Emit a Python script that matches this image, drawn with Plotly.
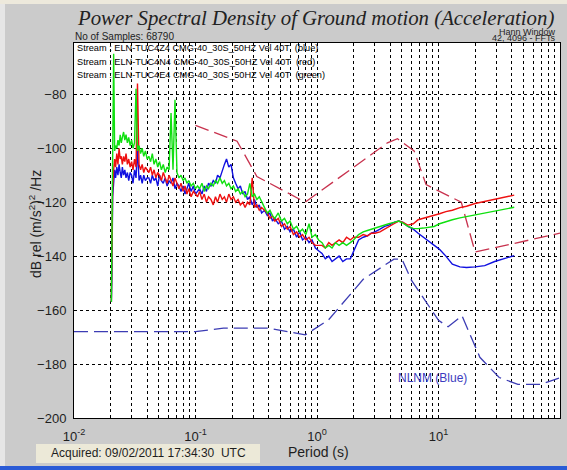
import plotly.graph_objects as go

# ---------------- data ----------------
period_s = [
    0.0203, 0.0205, 0.0208, 0.0212, 0.0216, 0.022, 0.0225, 0.023, 0.0235, 0.024, 0.0245, 0.025,
    0.0256, 0.0262, 0.0268, 0.0275, 0.0282, 0.029, 0.0298, 0.0306, 0.0315, 0.0324, 0.0333, 0.0343,
    0.0353, 0.0364, 0.0375, 0.0387, 0.04,
    0.0413, 0.0427, 0.0441, 0.0456, 0.0472, 0.0489, 0.0506, 0.0524, 0.0543, 0.0563, 0.0584, 0.0606,
    0.0629, 0.0653, 0.0678, 0.0704, 0.0731, 0.076, 0.079, 0.082, 0.085, 0.088, 0.092, 0.096, 0.1,
    0.104, 0.108, 0.113, 0.118, 0.123, 0.128, 0.134, 0.14, 0.146, 0.152, 0.159, 0.166, 0.173, 0.18,
    0.188, 0.196, 0.205, 0.214, 0.224, 0.234, 0.245, 0.256, 0.268, 0.28, 0.293, 0.306, 0.32, 0.335, 0.35,
    0.37, 0.39, 0.41, 0.43, 0.45, 0.48, 0.51, 0.54, 0.57, 0.6, 0.64, 0.68, 0.72, 0.76, 0.81, 0.86, 0.91, 0.97, 1.03,
    1.1, 1.17, 1.25, 1.33, 1.42, 1.52, 1.63, 1.75, 1.88, 2.0,
    2.2, 2.4, 2.6, 2.8, 3.0, 3.3, 3.6, 3.9, 4.3, 4.7, 5.1, 5.6, 6.2, 6.8, 7.5, 8.3, 9.2, 10.2, 11.5,
    13, 15, 17, 20, 24, 29, 35, 42,
]

psd_blue_db = [
    -157, -148, -118, -110, -108, -111, -107, -110, -106, -109, -111, -107,
    -110, -108, -111, -109, -112, -109, -110, -113, -108, -111, -100, -112, -110, -113, -110, -112, -111,
    -111, -113, -110, -112, -111, -114, -110, -112, -113, -111, -114, -112, -113, -111, -115, -113,
    -114, -116, -114, -117, -115, -113, -116, -114, -117,
    -116, -115, -117, -114, -116, -113, -114, -112, -113, -110, -111, -108, -106, -104, -107, -106,
    -111, -113, -115, -114, -117, -116, -119, -118, -121, -119, -122, -121, -124,
    -123, -125, -124, -127, -126, -128, -127, -130, -129, -131, -130, -133, -131, -134, -133, -135, -134, -137, -138,
    -139, -141, -140, -142, -141, -140, -142, -141, -141, -138,
    -134, -133, -132.5, -131.5, -131, -130, -129, -128.5, -127.5, -127, -127.5, -129, -130, -131.5,
    -133, -134.5, -136, -137.5, -140, -143, -144, -144.2, -144, -143.5, -142, -141, -139.8,
]

psd_red_db = [
    -157, -140, -115, -108, -104, -107, -102, -106, -100, -104, -103, -106,
    -103, -105, -102, -106, -104, -107, -105, -108, -104, -107, -76, -106, -108, -106, -109, -107, -108,
    -109, -107, -110, -108, -111, -109, -110, -112, -109, -111, -113, -110, -112, -114, -111, -113,
    -115, -113, -116, -114, -117, -115, -118, -116, -117,
    -118, -116, -119, -117, -120, -118, -119, -121, -118, -120, -117, -119, -118, -120, -117, -119,
    -118, -120, -119, -121, -120, -122, -120, -121, -111, -122, -121, -123, -122,
    -123, -124, -126, -125, -127, -126, -129, -128, -130, -129, -132, -131, -133, -132, -134, -133, -135, -136, -136,
    -136, -137, -135, -136, -135, -134, -135, -133, -134, -133,
    -133, -132, -132.5, -131.5, -131.5, -131, -130, -129, -128, -127, -127.5, -128.5, -128, -126.5,
    -126, -125.5, -125, -124.3, -123.5, -123, -122, -121.5, -120.5, -119.8, -119, -118.2, -117.4,
]

psd_green_db = [
    -157, -120, -104, -65, -101, -99, -100, -97, -99, -95, -98, -96,
    -94, -97, -95, -98, -96, -99, -97, -100, -98, -78, -101, -99, -102, -100, -103, -101, -104,
    -103, -105, -102, -106, -104, -107, -105, -108, -106, -109, -107, -108, -87, -108, -82, -109,
    -111, -110, -112, -111, -113, -112, -114, -113, -115,
    -114, -115, -113, -116, -114, -115, -113, -114, -112, -113, -111, -113, -112, -114, -113, -115,
    -114, -116, -115, -117, -116, -118, -117, -113, -118, -117, -119, -118, -120,
    -122, -124, -123, -125, -126, -124, -127, -126, -128, -127, -130, -129, -131, -130, -132, -128, -133, -132, -134,
    -135, -137, -136, -137, -135, -136, -135, -136, -135, -134,
    -132, -131, -130.5, -130, -129.5, -129, -128.5, -128, -127.5, -127, -127.8, -129, -129.7, -129.8,
    -129.6, -129.3, -129, -128, -127.2, -126.5, -125.8, -125.3, -124.8, -124, -123.2, -122.5, -121.9,
]

nhnm_period = [0.1, 0.22, 0.32, 0.8, 3.8, 4.6, 6.3, 7.9, 15.4, 20, 100]
nhnm_db = [-91.5, -97.4, -110.5, -120.0, -98.0, -96.5, -101.0, -113.5, -120.0, -138.5, -131.5]

nlnm_period = [0.01, 0.1, 0.17, 0.4, 0.8, 1.24, 2.4, 4.3, 5.0, 6.0, 10.0, 12.0, 15.6, 21.9, 31.6, 45, 70, 100]
nlnm_db = [-168.0, -168.0, -166.7, -166.7, -169.2, -163.7, -148.6, -141.1, -141.1, -149.0, -163.8,
           -166.2, -162.1, -177.5, -185.0, -187.5, -187.5, -185.1]

x_tickvals = [m * 10 ** e for e in (-2, -1, 0, 1) for m in range(1, 10)] + [100]
x_ticktext = []
for e in (-2, -1, 0, 1):
    x_ticktext += ["10<sup>%d</sup>" % e] + [""] * 8
x_ticktext += ["10<sup>2</sup>"]
y_tickvals = [-200, -180, -160, -140, -120, -100, -80]

stream_lines = [
    "Stream : ELN-TUC4Z4 CMG-40_30S_50HZ Vel 40T  (blue)",
    "Stream : ELN-TUC4N4 CMG-40_30S_50HZ Vel 40T  (red)",
    "Stream : ELN-TUC4E4 CMG-40_30S_50HZ Vel 40T  (green)",
]

# ---------------- layout helpers ----------------
W, H = 567, 470
L, R, T, B = 74, 7, 43, 52
PW, PH = W - L - R, H - T - B


def px(x):
    return (x - L) / PW


def py(y):
    return (H - B - y) / PH


TXT = "#1e1e1e"
SANS = "Liberation Sans, Arial, sans-serif"

fig = go.Figure()

fig.add_trace(go.Scatter(x=nlnm_period, y=nlnm_db, mode="lines",
                         line=dict(color="#3c3cb4", width=1.3, dash="14px,6px"), hoverinfo="skip"))
fig.add_trace(go.Scatter(x=nhnm_period, y=nhnm_db, mode="lines",
                         line=dict(color="#c8324e", width=1.3, dash="14px,6px"), hoverinfo="skip"))
fig.add_trace(go.Scatter(x=period_s, y=psd_blue_db, mode="lines",
                         line=dict(color="#1010e0", width=1.4), hoverinfo="skip"))
fig.add_trace(go.Scatter(x=period_s, y=psd_red_db, mode="lines",
                         line=dict(color="#ee1010", width=1.4), hoverinfo="skip"))
fig.add_trace(go.Scatter(x=period_s, y=psd_green_db, mode="lines",
                         line=dict(color="#10e010", width=1.4), hoverinfo="skip"))

annotations = [
    dict(text="<i>Power Spectral Density of Ground motion (Acceleration)</i>",
         x=px(315), y=py(18), font=dict(family="Liberation Serif, serif", size=20.8, color="#222222")),
    dict(text="No of Samples: 68790", x=px(73), y=py(37), xanchor="left",
         font=dict(family=SANS, size=10, color=TXT)),
    dict(text="Hann Window", x=px(558), y=py(32), xanchor="right",
         font=dict(family=SANS, size=9, color=TXT)),
    dict(text="42, 4096 - FFTs", x=px(558), y=py(38), xanchor="right",
         font=dict(family=SANS, size=9, color=TXT)),
    dict(text="NLNM (Blue)", xref="x", yref="y", x=0.95, y=-185,
         font=dict(family=SANS, size=12, color="#3c3cc0")),
    dict(text="Period (s)", x=px(318), y=py(452), font=dict(family=SANS, size=14, color=TXT)),
    dict(text="dB rel (m/s<sup>2</sup>)<sup>2</sup> /Hz", x=px(35), y=py(224), textangle=-90,
         font=dict(family=SANS, size=14, color=TXT)),
    dict(text="Acquired: 09/02/2011 17:34:30  UTC", x=px(148), y=py(453),
         font=dict(family=SANS, size=12, color=TXT)),
]
for i, s in enumerate(stream_lines):
    annotations.append(dict(text=s, x=px(75), y=py(48 + 13.5 * i), xanchor="left",
                            font=dict(family=SANS, size=9.2, color="#000000")))
for a in annotations:
    a.setdefault("xref", "paper")
    a.setdefault("yref", "paper")
    a.setdefault("showarrow", False)
    a.setdefault("xanchor", "center")
    a.setdefault("yanchor", "middle")

shapes = [
    dict(type="rect", xref="paper", yref="paper", x0=px(36), x1=px(260), y0=py(463), y1=py(444),
         fillcolor="#ece9d8", line=dict(width=0), layer="below"),
    dict(type="rect", xref="paper", yref="paper", x0=px(0), x1=px(W), y0=py(4), y1=py(0),
         fillcolor="#ede9dc", line=dict(width=0), layer="below"),
    dict(type="rect", xref="paper", yref="paper", x0=px(0), x1=px(W), y0=py(H), y1=py(466),
         fillcolor="#2a5bd6", line=dict(width=0), layer="below"),
    dict(type="rect", xref="paper", yref="paper", x0=px(0), x1=px(5), y0=py(466), y1=py(4),
         fillcolor="#e6e6e6", line=dict(width=0), layer="below"),
]

fig.update_layout(
    width=W, height=H,
    margin=dict(l=L, r=R, t=T, b=B, pad=0),
    paper_bgcolor="#cbcbcb", plot_bgcolor="#ffffff",
    showlegend=False,
    annotations=annotations, shapes=shapes,
    font=dict(family=SANS, color=TXT),
)
fig.update_xaxes(type="log", range=[-2, 2], tickmode="array", tickvals=x_tickvals, ticktext=x_ticktext,
                 showgrid=True, gridcolor="#000000", gridwidth=1, griddash="3px,3px",
                 showline=True, linecolor="#000000", linewidth=1, mirror=True,
                 ticks="", zeroline=False, tickfont=dict(size=13, color=TXT), ticklabelstandoff=6)
fig.update_yaxes(range=[-200, -61], tickmode="array", tickvals=y_tickvals,
                 showgrid=True, gridcolor="#000000", gridwidth=1, griddash="3px,3px",
                 showline=True, linecolor="#000000", linewidth=1, mirror=True,
                 ticks="", zeroline=False, tickfont=dict(size=13, color=TXT), ticklabelstandoff=4)

fig.write_html("out.html", config={"displayModeBar": False, "staticPlot": True},
               post_script="document.body.style.margin='0px';document.body.style.overflow='hidden';")
